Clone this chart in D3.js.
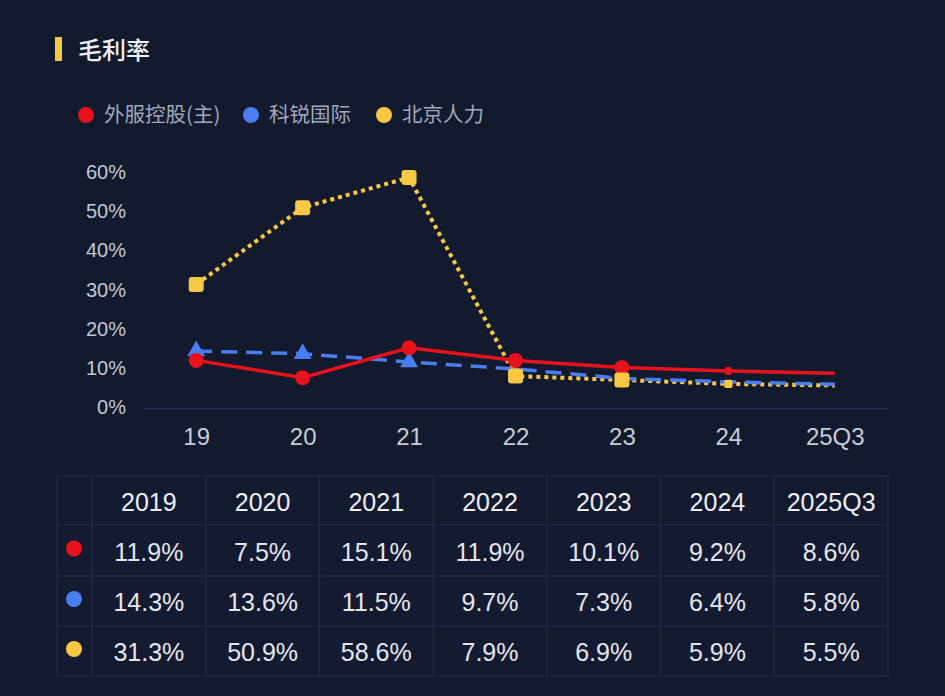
<!DOCTYPE html>
<html>
<head>
<meta charset="utf-8">
<script src="https://cdn.jsdelivr.net/npm/d3@7"></script>
<style>
  html, body { margin: 0; padding: 0; background: #131a2e; }
  svg { display: block; font-family: "Liberation Sans", "Noto Sans CJK SC", sans-serif; }
</style>
</head>
<body>
<svg class="chart"></svg>
<script>
// Data
var categories = ["19", "20", "21", "22", "23", "24", "25Q3"];
var tableHeads = ["2019", "2020", "2021", "2022", "2023", "2024", "2025Q3"];
var seriesNames = ["外服控股(主)", "科锐国际", "北京人力"];
var waifu = [11.9, 7.5, 15.1, 11.9, 10.1, 9.2, 8.6];
var kerui = [14.3, 13.6, 11.5, 9.7, 7.3, 6.4, 5.8];
var bjrl = [31.3, 50.9, 58.6, 7.9, 6.9, 5.9, 5.5];
var yTicks = [0, 10, 20, 30, 40, 50, 60];

var W = 945, H = 696;
var colors = ["#e8121c", "#4a7cf2", "#f7c845"];

var svg = d3.select(".chart")
    .attr("width", W)
    .attr("height", H);

svg.append("rect").attr("width", W).attr("height", H).attr("fill", "#131a2e");

// Title
svg.append("rect").attr("x", 55).attr("y", 37).attr("width", 7).attr("height", 24).attr("fill", "#f7c845");
svg.append("text")
    .attr("x", 78).attr("y", 59)
    .attr("fill", "#eef0f5")
    .style("font-size", "24px")
    .style("font-weight", "500")
    .style("font-family", "'Noto Sans CJK SC', sans-serif")
    .text("毛利率");

// Legend
var legendX = [86, 251, 384];
seriesNames.forEach(function (name, i) {
    svg.append("circle").attr("cx", legendX[i]).attr("cy", 115).attr("r", 8).attr("fill", colors[i]);
    svg.append("text")
        .attr("x", legendX[i] + 18).attr("y", 122)
        .attr("fill", "#a3a7ba")
        .style("font-size", "20.5px")
        .style("font-family", "'Noto Sans CJK SC', sans-serif")
        .text(name);
});

// Scales
var x = d3.scalePoint().domain(categories).range([143, 888]).padding(0.5);
var y = d3.scaleLinear().domain([0, 60]).range([407, 172]);

// Y axis labels
svg.append("g").selectAll("text")
    .data(yTicks).enter().append("text")
    .attr("x", 126)
    .attr("y", function (d) { return y(d); })
    .attr("dy", "0.35em")
    .attr("text-anchor", "end")
    .attr("fill", "#c3c7d3")
    .style("font-size", "20px")
    .text(function (d) { return d + "%"; });

// X axis
var xAxis = d3.axisBottom(x).tickSize(0).tickPadding(20);
var gx = svg.append("g").attr("transform", "translate(0,408)").call(xAxis);
gx.select(".domain").attr("stroke", "#263150").attr("stroke-width", 1.5);
gx.selectAll("text").attr("fill", "#c8ccd8").style("font-size", "24px").style("font-family", "'Liberation Sans', sans-serif");

var line = d3.line()
    .x(function (d, i) { return x(categories[i]); })
    .y(function (d) { return y(d); });

// marker size shrinks toward the end, as in the source app
function markerScale(i, fullCount) {
    if (i < fullCount) return 1;
    if (i === fullCount) return 0.55;
    return 0;
}

// Yellow dotted
svg.append("path").datum(bjrl)
    .attr("d", line).attr("fill", "none")
    .attr("stroke", colors[2]).attr("stroke-width", 4)
    .attr("stroke-dasharray", "4,4");
// Blue dashed
svg.append("path").datum(kerui)
    .attr("d", line).attr("fill", "none")
    .attr("stroke", colors[1]).attr("stroke-width", 3.5)
    .attr("stroke-dasharray", "16,9");
// Red solid
svg.append("path").datum(waifu)
    .attr("d", line).attr("fill", "none")
    .attr("stroke", colors[0]).attr("stroke-width", 3.5);

// Blue triangles
svg.append("g").selectAll("path")
    .data(kerui).enter().append("path")
    .attr("d", function (d, i) {
        var s = markerScale(i, 3);
        return s ? d3.symbol().type(d3.symbolTriangle).size(140 * s * s)() : null;
    })
    .attr("transform", function (d, i) { return "translate(" + x(categories[i]) + "," + y(d) + ")"; })
    .attr("fill", colors[1]);

// Red circles
svg.append("g").selectAll("circle")
    .data(waifu).enter().append("circle")
    .attr("cx", function (d, i) { return x(categories[i]); })
    .attr("cy", function (d) { return y(d); })
    .attr("r", function (d, i) { return 7.5 * markerScale(i, 5); })
    .attr("fill", colors[0]);

// Yellow squares
svg.append("g").selectAll("rect")
    .data(bjrl).enter().append("rect")
    .each(function (d, i) {
        var s = 15 * markerScale(i, 5);
        d3.select(this)
            .attr("x", x(categories[i]) - s / 2)
            .attr("y", y(d) - s / 2)
            .attr("width", s).attr("height", s)
            .attr("rx", 3 * s / 15);
    })
    .attr("fill", colors[2]);

// Table
var tLeft = 57, tRight = 888, firstCol = 92;
var colW = (tRight - firstCol) / tableHeads.length;
var rowY = [476, 525, 576, 626, 676];
var rows = [waifu, kerui, bjrl];
var tbl = svg.append("g");

tbl.append("rect")
    .attr("x", tLeft).attr("y", rowY[0])
    .attr("width", tRight - tLeft).attr("height", rowY[4] - rowY[0])
    .attr("fill", "#141b31").attr("stroke", "#1f2945").attr("stroke-width", 1.5);

// grid lines
rowY.slice(1, 4).forEach(function (yy) {
    tbl.append("line").attr("x1", tLeft).attr("x2", tRight).attr("y1", yy).attr("y2", yy)
        .attr("stroke", "#1f2945").attr("stroke-width", 1.5);
});
d3.range(tableHeads.length).forEach(function (j) {
    var xx = firstCol + j * colW;
    tbl.append("line").attr("x1", xx).attr("x2", xx).attr("y1", rowY[0]).attr("y2", rowY[4])
        .attr("stroke", "#1f2945").attr("stroke-width", 1.5);
});

// header
tbl.selectAll(".head").data(tableHeads).enter().append("text")
    .attr("class", "head")
    .attr("x", function (d, j) { return firstCol + (j + 0.5) * colW; })
    .attr("y", (rowY[0] + rowY[1]) / 2 + 1)
    .attr("dy", "0.36em")
    .attr("text-anchor", "middle")
    .attr("fill", "#eceef4")
    .style("font-size", "25px")
    .text(function (d) { return d; });

rows.forEach(function (vals, r) {
    var cy = (rowY[r + 1] + rowY[r + 2]) / 2 + 1;
    tbl.append("circle").attr("cx", 74).attr("cy", cy - 3).attr("r", 8).attr("fill", colors[r]);
    tbl.selectAll(".row" + r).data(vals).enter().append("text")
        .attr("class", "row" + r)
        .attr("x", function (d, j) { return firstCol + (j + 0.5) * colW; })
        .attr("y", cy)
        .attr("dy", "0.36em")
        .attr("text-anchor", "middle")
        .attr("fill", "#e4e6ee")
        .style("font-size", "25px")
        .text(function (d) { return d.toFixed(1) + "%"; });
});
</script>
</body>
</html>
